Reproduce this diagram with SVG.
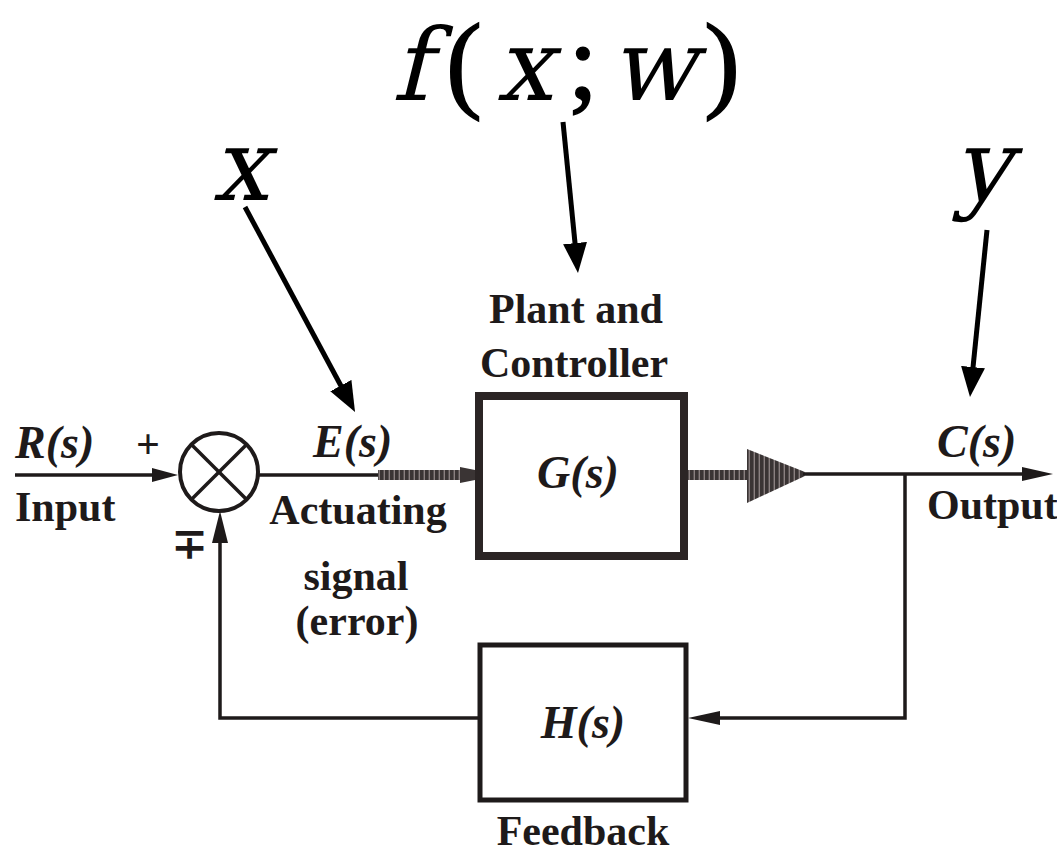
<svg xmlns="http://www.w3.org/2000/svg" width="1057" height="854" viewBox="0 0 1057 854">
<defs>
<style>
.lbl{font-family:"Liberation Serif","Times New Roman",serif;font-weight:bold;font-size:42px;fill:#1e1a1a}
.it{font-family:"Liberation Serif","Times New Roman",serif;font-style:italic;font-weight:bold;font-size:46px;fill:#1e1a1a}
.math{font-family:"DejaVu Serif","Liberation Serif",serif;font-size:100px;fill:#000}
.mathu{font-family:"Liberation Serif","Times New Roman",serif;font-size:108px;fill:#000;stroke:#000;stroke-width:1.5}
.wire{fill:none;stroke:#1e1a1a;stroke-width:3.5}
.ptr{fill:none;stroke:#000;stroke-width:5}
.head{fill:#1e1a1a}
</style>
<marker id="ah" markerUnits="userSpaceOnUse" markerWidth="30" markerHeight="24" refX="20" refY="12" orient="auto">
<path d="M0,0 L30,12 L0,24 z" fill="#000"/>
</marker>
<pattern id="stripes" patternUnits="userSpaceOnUse" width="5" height="10">
<rect x="0" y="0" width="5" height="10" fill="#3a3434"/>
<rect x="3.6" y="0" width="1.4" height="10" fill="#8a8080"/>
</pattern>
</defs>
<rect width="1057" height="854" fill="#fff"/>

<g id="math-labels">
<text class="math" transform="translate(392,100) skewX(-14)">f</text>
<text class="mathu" x="446" y="98">(</text>
<text class="math" transform="translate(496,100) skewX(-14)">x</text>
<text class="mathu" x="568" y="98">;</text>
<text class="math" transform="translate(610,100) skewX(-14)">w</text>
<text class="mathu" x="704" y="98">)</text>
<text class="math" transform="translate(212,200) skewX(-14)">x</text>
<text class="math" transform="translate(954,200) skewX(-14)">y</text>
</g>

<g id="connectors">
<line class="ptr" x1="245" y1="207" x2="350.3" y2="403.2" marker-end="url(#ah)"/>
<line class="ptr" x1="563" y1="122" x2="577" y2="263" marker-end="url(#ah)"/>
<line class="ptr" x1="987" y1="230" x2="971" y2="387" marker-end="url(#ah)"/>
<line class="wire" x1="15" y1="475" x2="165" y2="475"/>
<polygon class="head" points="178,475 152,468 152,482"/>
<line class="wire" x1="259" y1="475" x2="380" y2="475"/>
<rect x="378" y="470" width="97" height="10" fill="url(#stripes)"/>
<polygon points="460,467 475,470 475,480 460,483" fill="#3a3434"/>
<rect x="688" y="470" width="60" height="10" fill="url(#stripes)"/>
<polygon points="747,449 747,503 805,476 805,472" fill="url(#stripes)"/>
<line class="wire" x1="803" y1="474" x2="1030" y2="474"/>
<polygon class="head" points="1053,474 1022,467 1022,481"/>
<polyline class="wire" points="905,474 905,718 715,718"/>
<polygon class="head" points="688,718 720,711 720,725"/>
<polyline class="wire" points="480,718 220,718 220,535"/>
<polygon class="head" points="220,511 212,543 228,543"/>
</g>

<g id="sum">
<circle cx="219" cy="472" r="39" fill="none" stroke="#1e1a1a" stroke-width="4"/>
<line class="wire" x1="191.4" y1="444.4" x2="246.6" y2="499.6"/>
<line class="wire" x1="246.6" y1="444.4" x2="191.4" y2="499.6"/>
<text class="lbl" x="148" y="458" text-anchor="middle" font-size="36">+</text>
<text class="lbl" x="189" y="558" text-anchor="middle" font-size="38">∓</text>
</g>

<g id="input-label">
<text class="it" x="15" y="458">R(s)</text>
<text class="lbl" x="15" y="521">Input</text>
</g>

<g id="error-label">
<text class="it" x="313" y="457">E(s)</text>
<text class="lbl" x="358" y="524" text-anchor="middle">Actuating</text>
<text class="lbl" x="356" y="590" text-anchor="middle">signal</text>
<text class="lbl" x="357" y="635" text-anchor="middle">(error)</text>
</g>

<g id="G">
<rect x="479" y="396" width="205" height="160" fill="#fff" stroke="#2b2525" stroke-width="8"/>
<text class="it" x="578" y="488" text-anchor="middle">G(s)</text>
<text class="lbl" x="576" y="323" text-anchor="middle">Plant and</text>
<text class="lbl" x="574" y="377" text-anchor="middle">Controller</text>
</g>

<g id="H">
<rect x="480" y="645" width="206" height="155" fill="#fff" stroke="#1e1a1a" stroke-width="5"/>
<text class="it" x="583" y="738" text-anchor="middle">H(s)</text>
<text class="lbl" x="583" y="845" text-anchor="middle">Feedback</text>
</g>

<g id="output-label">
<text class="it" x="937" y="457">C(s)</text>
<text class="lbl" x="927" y="519">Output</text>
</g>
</svg>
